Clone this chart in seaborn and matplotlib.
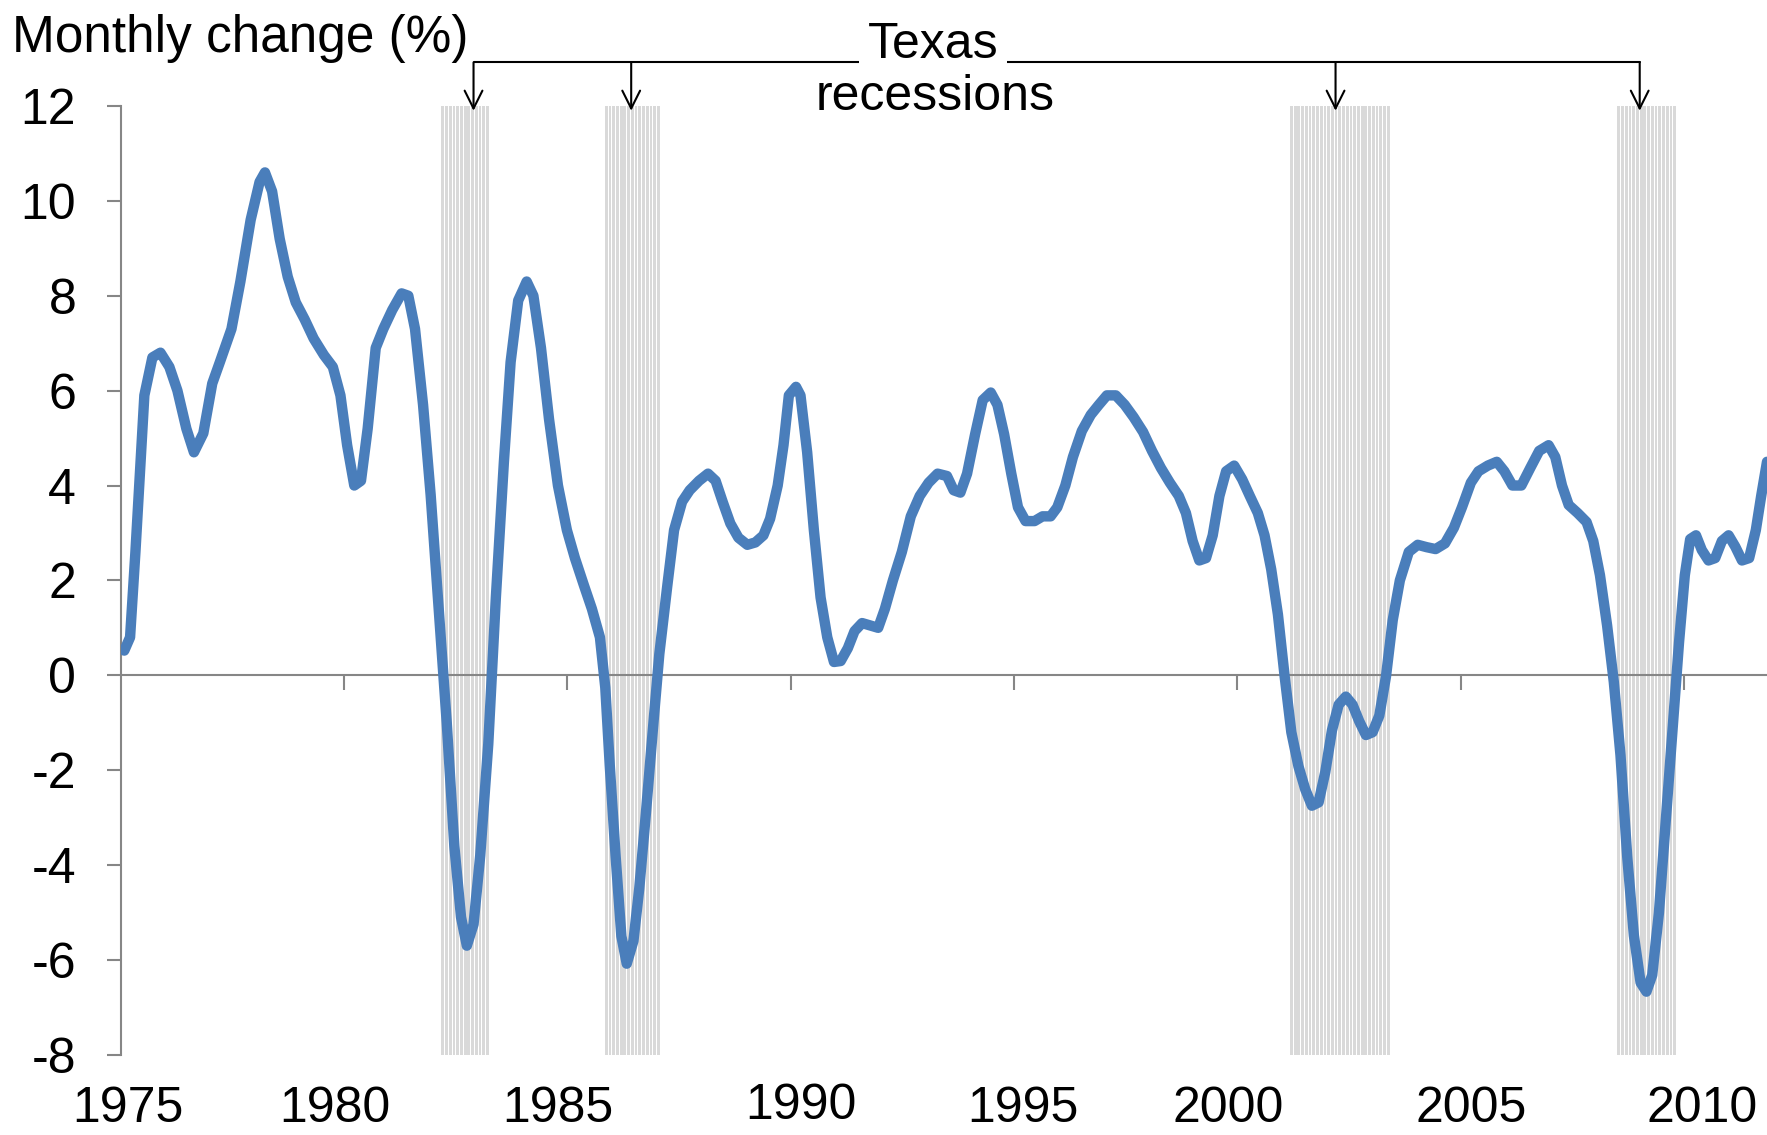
import numpy as np
import pandas as pd
import seaborn as sns
import matplotlib.pyplot as plt

# Texas monthly change (%)
years = [1975.08, 1975.21, 1975.33, 1975.53, 1975.71, 1975.89, 1976.09, 1976.27, 1976.47, 1976.64,
         1976.85, 1977.05, 1977.22, 1977.48, 1977.68, 1977.91, 1978.11, 1978.23, 1978.39, 1978.56,
         1978.74, 1978.92, 1979.12, 1979.32, 1979.55, 1979.75, 1979.92, 1980.07, 1980.23, 1980.38,
         1980.53, 1980.71, 1980.88, 1981.08, 1981.29, 1981.44, 1981.59, 1981.77, 1981.94, 1982.12,
         1982.30, 1982.47, 1982.62, 1982.75, 1982.90, 1983.05, 1983.23, 1983.40, 1983.58, 1983.73,
         1983.90, 1984.09, 1984.24, 1984.41, 1984.59, 1984.79, 1984.99, 1985.17, 1985.37, 1985.55,
         1985.73, 1985.85, 1985.95, 1986.08, 1986.21, 1986.33, 1986.48, 1986.61, 1986.76, 1986.91,
         1987.06, 1987.24, 1987.39, 1987.57, 1987.74, 1987.95, 1988.15, 1988.32, 1988.48, 1988.65,
         1988.83, 1989.03, 1989.21, 1989.39, 1989.54, 1989.71, 1989.84, 1989.96, 1990.12, 1990.22,
         1990.37, 1990.52, 1990.67, 1990.82, 1990.97, 1991.12, 1991.28, 1991.43, 1991.60, 1991.78,
         1991.96, 1992.11, 1992.29, 1992.49, 1992.69, 1992.89, 1993.09, 1993.29, 1993.50, 1993.65,
         1993.80, 1993.95, 1994.13, 1994.30, 1994.48, 1994.63, 1994.78, 1994.94, 1995.09, 1995.26,
         1995.46, 1995.64, 1995.82, 1995.97, 1996.15, 1996.32, 1996.52, 1996.72, 1996.90, 1997.08,
         1997.28, 1997.48, 1997.68, 1997.89, 1998.09, 1998.29, 1998.49, 1998.69, 1998.85, 1999.00,
         1999.15, 1999.30, 1999.45, 1999.60, 1999.75, 1999.93, 2000.11, 2000.28, 2000.46, 2000.61,
         2000.76, 2000.91, 2001.06, 2001.21, 2001.37, 2001.52, 2001.67, 2001.82, 2001.97, 2002.12,
         2002.27, 2002.43, 2002.58, 2002.73, 2002.88, 2003.03, 2003.18, 2003.33, 2003.48, 2003.64,
         2003.84, 2004.04, 2004.24, 2004.44, 2004.65, 2004.85, 2005.03, 2005.23, 2005.40, 2005.61,
         2005.81, 2005.98, 2006.16, 2006.36, 2006.56, 2006.76, 2006.97, 2007.12, 2007.27, 2007.42,
         2007.62, 2007.82, 2007.97, 2008.12, 2008.28, 2008.43, 2008.58, 2008.73, 2008.88, 2009.03,
         2009.16, 2009.29, 2009.44, 2009.59, 2009.74, 2009.89, 2010.02, 2010.14, 2010.27, 2010.40,
         2010.55, 2010.70, 2010.85, 2011.00, 2011.15, 2011.30, 2011.46, 2011.61, 2011.73, 2011.86]

change = [0.52, 0.8, 2.6, 5.9, 6.7, 6.8, 6.5, 6.0, 5.2, 4.7,
          5.1, 6.15, 6.6, 7.3, 8.3, 9.6, 10.4, 10.6, 10.2, 9.2,
          8.4, 7.86, 7.5, 7.1, 6.75, 6.5, 5.9, 4.85, 4.0, 4.1,
          5.2, 6.9, 7.3, 7.7, 8.05, 8.0, 7.3, 5.7, 3.8, 1.4,
          -1.0, -3.6, -5.1, -5.7, -5.25, -3.8, -1.45, 1.64, 4.5, 6.6,
          7.9, 8.3, 8.0, 6.9, 5.4, 4.0, 3.06, 2.47, 1.9, 1.4,
          0.8, -0.26, -1.9, -3.8, -5.5, -6.08, -5.6, -4.5, -2.9, -1.2,
          0.45, 1.9, 3.06, 3.66, 3.9, 4.1, 4.25, 4.1, 3.65, 3.2,
          2.9, 2.75, 2.8, 2.95, 3.3, 4.0, 4.85, 5.9, 6.08, 5.9,
          4.7, 3.06, 1.64, 0.8, 0.28, 0.3, 0.57, 0.93, 1.1, 1.05,
          1.0, 1.4, 2.0, 2.6, 3.35, 3.78, 4.06, 4.25, 4.2, 3.9,
          3.85, 4.25, 5.08, 5.8, 5.96, 5.7, 5.08, 4.25, 3.54, 3.25,
          3.25, 3.35, 3.35, 3.54, 4.0, 4.6, 5.15, 5.49, 5.7, 5.9,
          5.9, 5.7, 5.44, 5.13, 4.73, 4.37, 4.06, 3.78, 3.42, 2.83,
          2.42, 2.47, 2.95, 3.78, 4.3, 4.42, 4.13, 3.78, 3.42, 2.95,
          2.23, 1.28, -0.02, -1.2, -1.92, -2.4, -2.75, -2.68, -2.04, -1.16,
          -0.62, -0.45, -0.62, -0.97, -1.26, -1.2, -0.85, -0.02, 1.16, 2.0,
          2.6, 2.75, 2.7, 2.66, 2.78, 3.11, 3.54, 4.06, 4.3, 4.42,
          4.5, 4.3, 4.0, 4.0, 4.37, 4.73, 4.85, 4.6, 4.0, 3.59,
          3.42, 3.23, 2.83, 2.11, 1.05, -0.14, -1.69, -3.82, -5.49, -6.48,
          -6.67, -6.32, -5.01, -3.11, -1.21, 0.69, 2.11, 2.87, 2.95, 2.64,
          2.42, 2.47, 2.83, 2.95, 2.71, 2.42, 2.47, 3.06, 3.78, 4.5]

# Texas recessions (start / end, decimal years)
rec_start = [1982.17, 1985.83, 2001.17, 2008.50]
rec_end = [1983.25, 1987.08, 2003.42, 2009.83]
arrow_x = [1982.90, 1986.43, 2002.20, 2009.01]

yticks = list(range(-8, 13, 2))
xticks = list(range(1980, 2011, 5))
xlabels = ['1975', '1980', '1985', '1990', '1995', '2000', '2005', '2010']
# label centres, slightly off the ticks as in the original
xlabel_pos = [1975.16, 1979.80, 1984.79, 1990.22, 1995.21, 1999.80, 2005.23, 2010.40]
xlabel_y = [-0.057, -0.057, -0.057, -0.054, -0.057, -0.057, -0.057, -0.057]

sns.set_theme(style='white')
plt.rcParams['font.family'] = ['Liberation Sans', 'DejaVu Sans']
plt.rcParams['text.color'] = 'black'
plt.rcParams['ytick.labelcolor'] = 'black'

fig = plt.figure(figsize=(17.67, 11.35), dpi=100)
ax = fig.add_axes([0.0683, 0.0707, 0.9317, 0.8359])

# recession shading: one thin bar per month
for s, e in zip(rec_start, rec_end):
    months = np.arange(s, e, 1 / 12) + 1 / 24
    ax.bar(months, 20, bottom=-8, width=0.062, color='#d9d9d9', linewidth=0, zorder=1)

df = pd.DataFrame({'year': years, 'change': change})
sns.lineplot(data=df, x='year', y='change', ax=ax, color='#4a7ebb', linewidth=7.5,
             zorder=3, solid_joinstyle='round', solid_capstyle='round')

ax.set_xlim(1975, 2011.86)
ax.set_ylim(-8, 12)
ax.set_yticks(yticks)
ax.set_yticklabels([str(t) for t in yticks])
ax.set_xticks(xticks)
ax.set_xticklabels([])
ax.set_xlabel('')
ax.set_ylabel('')

for side in ['top', 'right']:
    ax.spines[side].set_visible(False)
for side in ['left', 'bottom']:
    ax.spines[side].set_color('#868686')
    ax.spines[side].set_linewidth(1.5)
ax.spines['bottom'].set_position(('data', 0))
ax.spines['bottom'].set_zorder(2)

ax.tick_params(axis='x', direction='out', length=11, width=1.5, colors='#868686', bottom=True)
ax.tick_params(axis='y', direction='out', length=10, width=1.5, color='#868686',
               labelcolor='black', labelsize=36, pad=22, left=True)

for pos, lab, dy in zip(xlabel_pos, xlabels, xlabel_y):
    ax.text(pos, dy, lab, transform=ax.get_xaxis_transform(), ha='center', va='center',
            fontsize=36, color='black')

# "Texas recessions" bracket with arrows
line_y = 12.92
ax.plot([arrow_x[0], arrow_x[-1]], [line_y, line_y], color='black', lw=1.5,
        clip_on=False, zorder=4)
for xa in arrow_x:
    ax.annotate('', xy=(xa, 11.9), xytext=(xa, line_y), annotation_clip=False,
                arrowprops=dict(arrowstyle='->', color='black', lw=1.5,
                                mutation_scale=32, shrinkA=0, shrinkB=0))
ax.text(1993.19, 13.28, 'Texas', ha='center', va='center', fontsize=36, zorder=5,
        color='black', bbox=dict(facecolor='white', edgecolor='none', pad=6), clip_on=False)
ax.text(1993.24, 12.19, 'recessions', ha='center', va='center', fontsize=36, zorder=5,
        color='black', clip_on=False)

fig.text(12 / 1767, 1 - 52 / 1135, 'Monthly change (%)', fontsize=37, ha='left',
         va='baseline', color='black')

fig.savefig('out.png', dpi=100)
